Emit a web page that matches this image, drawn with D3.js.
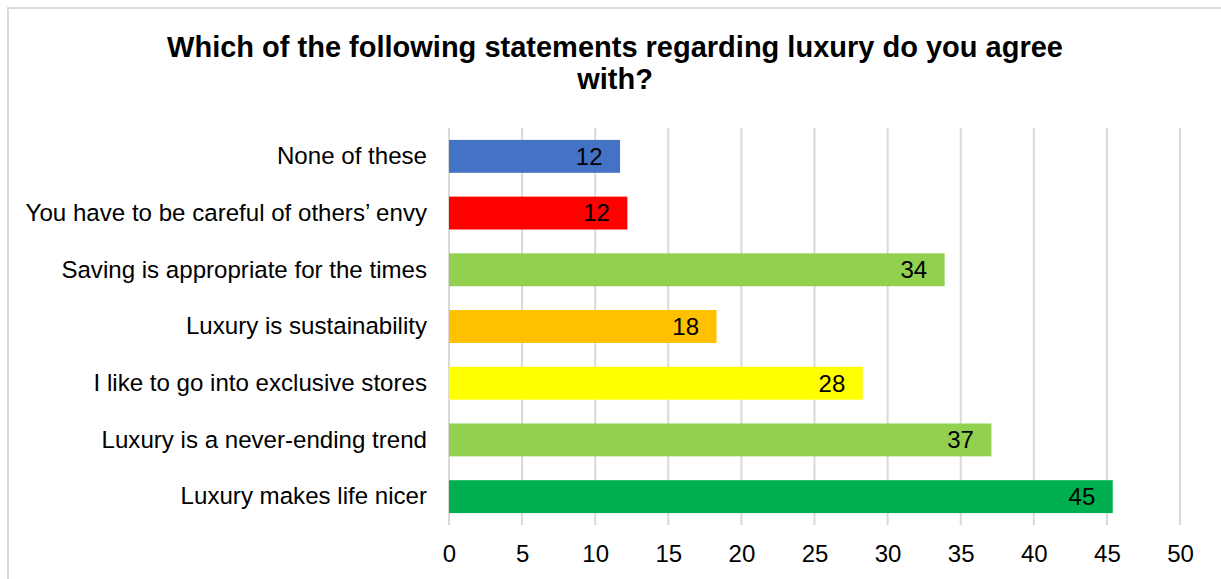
<!DOCTYPE html>
<html>
<head>
<meta charset="utf-8">
<script src="https://cdn.jsdelivr.net/npm/d3@7/dist/d3.min.js"></script>
<style>
  html, body { margin: 0; padding: 0; background: #fff; }
  svg { display: block; font-family: "Liberation Sans", Arial, sans-serif; }
</style>
</head>
<body>
<svg id="chart" width="1221" height="579"></svg>
<script>
const titleLines = ["Which of the following statements regarding luxury do you agree", "with?"];
const categories = [
  "None of these",
  "You have to be careful of others\u2019 envy",
  "Saving is appropriate for the times",
  "Luxury is sustainability",
  "I like to go into exclusive stores",
  "Luxury is a never-ending trend",
  "Luxury makes life nicer"
];
const values = [11.7, 12.2, 33.9, 18.3, 28.3, 37.1, 45.4];
const barColors = ["#4472C4", "#FF0000", "#92D050", "#FFC000", "#FFFF00", "#92D050", "#00B050"];
const xTicks = [0, 5, 10, 15, 20, 25, 30, 35, 40, 45, 50];

const svg = d3.select("#chart");
const W = 1221, H = 579;
const plot = { left: 449, right: 1180, top: 128, bottom: 525 };

// chart border (top & left visible)
svg.append("rect").attr("x", 8).attr("y", 8).attr("width", W + 10).attr("height", H + 10)
  .attr("fill", "#fff").attr("stroke", "#d9d9d9").attr("stroke-width", 2);

// title
const title = svg.append("text").attr("text-anchor", "middle")
  .attr("font-weight", "bold").attr("font-size", 29).attr("fill", "#000");
titleLines.forEach((t, i) => {
  title.append("tspan").attr("x", 615).attr("y", 57 + i * 32.3).text(t);
});

const x = d3.scaleLinear().domain([0, 50]).range([plot.left, plot.right]);
const y = d3.scaleBand().domain(categories).range([plot.top, plot.bottom]).paddingInner(0.42).paddingOuter(0.21);

// gridlines
svg.append("g").selectAll("line").data(xTicks).join("line")
  .attr("x1", d => x(d)).attr("x2", d => x(d))
  .attr("y1", plot.top).attr("y2", plot.bottom)
  .attr("stroke", "#d9d9d9").attr("stroke-width", 2);

// x axis labels
const xAxis = d3.axisBottom(x).tickValues(xTicks).tickSize(0).tickPadding(0);
const gx = svg.append("g").attr("transform", `translate(0,${plot.bottom})`).call(xAxis);
gx.select(".domain").remove();
gx.selectAll("text").attr("font-size", 24).attr("fill", "#000")
  .attr("font-family", "Liberation Sans, Arial, sans-serif")
  .attr("dy", null).attr("y", 36.7);

// y axis labels
const yAxis = d3.axisLeft(y).tickSize(0).tickPadding(22);
const gy = svg.append("g").attr("transform", `translate(${plot.left},0)`).call(yAxis);
gy.select(".domain").remove();
gy.selectAll("text").attr("font-size", 24.1).attr("fill", "#000")
  .attr("font-family", "Liberation Sans, Arial, sans-serif");

// bars
svg.append("g").selectAll("rect").data(values).join("rect")
  .attr("x", x(0))
  .attr("y", (d, i) => y(categories[i]))
  .attr("width", d => x(d) - x(0))
  .attr("height", y.bandwidth())
  .attr("fill", (d, i) => barColors[i]);

// data labels
svg.append("g").selectAll("text").data(values).join("text")
  .attr("x", d => x(d) - 17.5)
  .attr("y", (d, i) => y(categories[i]) + y.bandwidth() / 2)
  .attr("dy", "0.35em")
  .attr("text-anchor", "end")
  .attr("font-size", 24).attr("fill", "#000")
  .text(d => d3.format(".0f")(d));
</script>
</body>
</html>
